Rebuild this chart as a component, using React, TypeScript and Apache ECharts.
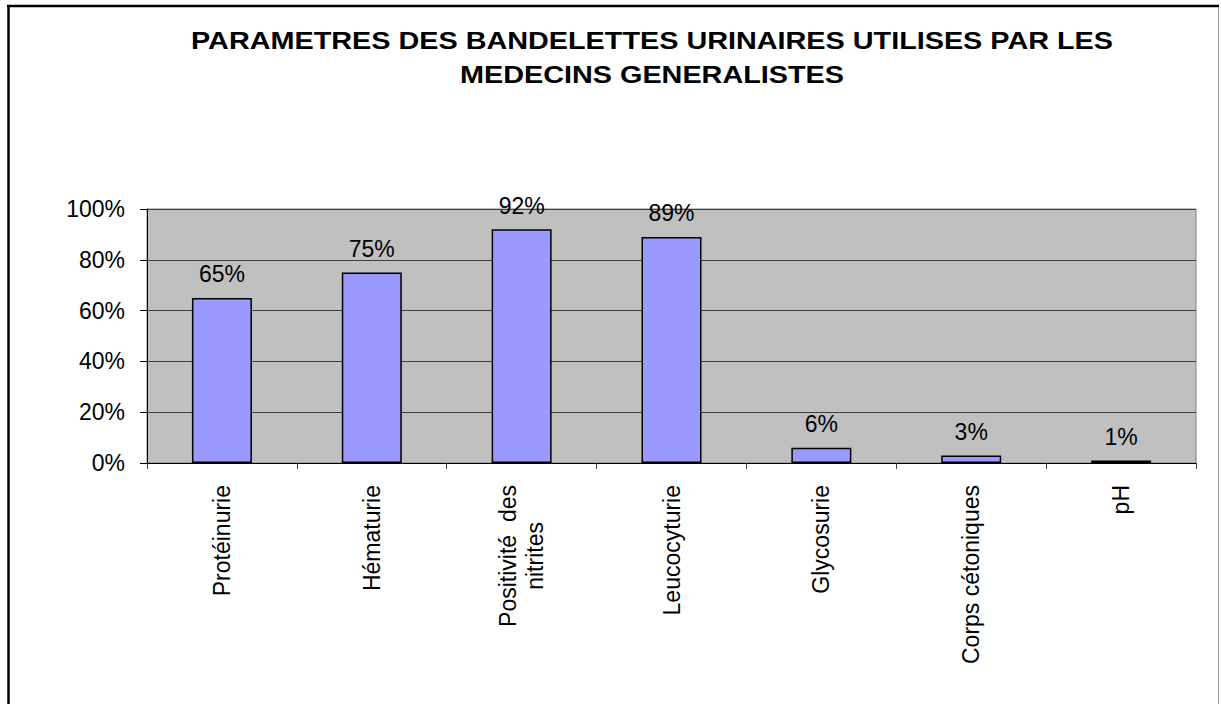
import React, { useEffect, useRef } from "react";
import * as echarts from "echarts";

const titleLines = [
  "PARAMETRES DES BANDELETTES URINAIRES UTILISES PAR LES",
  "MEDECINS GENERALISTES",
];
const categories = [
  "Protéinurie",
  "Hématurie",
  "Positivité  des\nnitrites",
  "Leucocyturie",
  "Glycosurie",
  "Corps cétoniques",
  "pH",
];
const values = [65, 75, 92, 89, 6, 3, 1];
const yMin = 0;
const yMax = 100;
const yInterval = 20;

const FONT = "'Liberation Sans', Arial, sans-serif";

export default function App() {
  const ref = useRef<HTMLDivElement>(null);
  useEffect(() => {
    if (!ref.current) return;
    const chart = echarts.init(ref.current, undefined, { renderer: "svg" });
    chart.setOption({
      animation: false,
      backgroundColor: "#ffffff",
      textStyle: { fontFamily: FONT },
      grid: {
        left: 147,
        top: 209,
        width: 1049,
        height: 254,
        show: true,
        backgroundColor: "#C0C0C0",
        borderColor: "#808080",
        borderWidth: 1,
      },
      graphic: [
        {
          type: "line",
          shape: { x1: 8.5, y1: 5, x2: 8.5, y2: 704 },
          style: { stroke: "#000", lineWidth: 2.5 },
        },
        {
          type: "line",
          shape: { x1: 7, y1: 6, x2: 1219, y2: 6 },
          style: { stroke: "#000", lineWidth: 2.5 },
        },
        {
          type: "line",
          shape: { x1: 1218.5, y1: 7, x2: 1218.5, y2: 704 },
          style: { stroke: "#999", lineWidth: 1 },
        },
        ...titleLines.map((t, i) => ({
          type: "text",
          x: 652,
          y: 41 + i * 34,
          scaleX: 1.2,
          scaleY: 1,
          style: {
            text: t,
            x: 0,
            y: 0,
            textAlign: "center",
            textVerticalAlign: "middle",
            fontFamily: FONT,
            fontWeight: "bold",
            fontSize: 24,
            fill: "#000",
          },
        })),
      ],
      xAxis: {
        type: "category",
        data: categories,
        boundaryGap: true,
        axisLine: { show: true, lineStyle: { color: "#000", width: 1 } },
        axisTick: {
          show: true,
          length: 6,
          inside: false,
          alignWithLabel: false,
          lineStyle: { color: "#404040" },
        },
        axisLabel: {
          interval: 0,
          rotate: 90,
          margin: 22,
          fontSize: 23,
          color: "#000",
          fontFamily: FONT,
          formatter: (v: string) =>
            v.indexOf("\n") >= 0
              ? v
                  .split("\n")
                  .map((s) => `{c|${s}}`)
                  .join("\n")
              : v,
          rich: {
            c: {
              align: "center",
              fontSize: 23,
              lineHeight: 27,
              fontFamily: FONT,
              color: "#000",
            },
          },
        },
        splitLine: { show: false },
      },
      yAxis: {
        type: "value",
        min: yMin,
        max: yMax,
        interval: yInterval,
        axisLine: { show: true, lineStyle: { color: "#000", width: 1 } },
        axisTick: {
          show: true,
          length: 7,
          inside: false,
          lineStyle: { color: "#000" },
        },
        axisLabel: {
          margin: 22,
          fontSize: 23,
          color: "#000",
          fontFamily: FONT,
          formatter: "{value}%",
        },
        splitLine: { show: true, lineStyle: { color: "#404040", width: 1 } },
      },
      series: [
        {
          type: "bar",
          data: values,
          barWidth: 60,
          itemStyle: {
            color: "#9999FF",
            borderColor: "#000",
            borderWidth: 1.5,
          },
          label: {
            show: true,
            position: "top",
            distance: 12,
            fontSize: 23,
            color: "#000",
            fontFamily: FONT,
            formatter: "{c}%",
          },
        },
      ],
    });
    return () => chart.dispose();
  }, []);
  return (
    <div
      ref={ref}
      style={{
        position: "absolute",
        left: 0,
        top: 0,
        width: 1221,
        height: 704,
      }}
    />
  );
}
